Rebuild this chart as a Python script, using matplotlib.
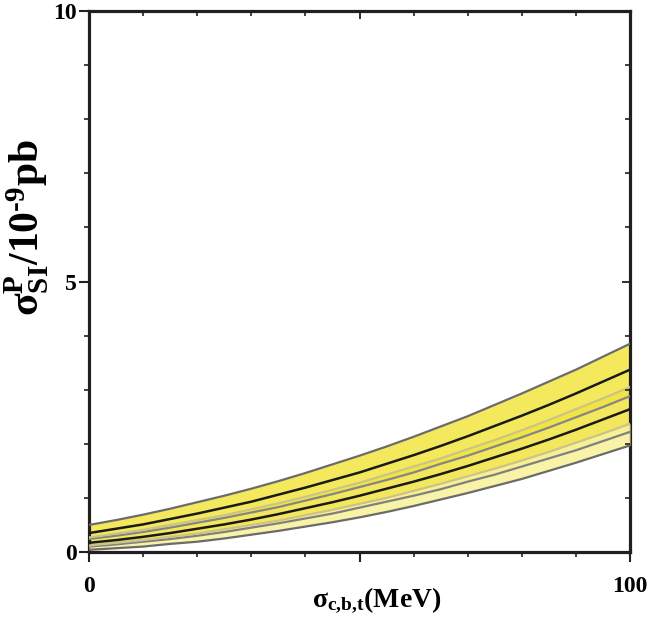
import matplotlib
matplotlib.use("Agg")
import matplotlib.pyplot as plt
import numpy as np

plt.rcParams['font.family'] = ['Liberation Serif', 'DejaVu Serif']
plt.rcParams['font.weight'] = 'bold'
plt.rcParams['mathtext.fontset'] = 'custom'
plt.rcParams['mathtext.rm'] = 'Liberation Serif:bold'
plt.rcParams['mathtext.it'] = 'Liberation Serif:bold'
plt.rcParams['mathtext.bf'] = 'Liberation Serif:bold'
plt.rcParams['mathtext.sf'] = 'Liberation Serif'

# x values (MeV)
sigma_x = [0, 5, 10, 15, 20, 25, 30, 35, 40, 45, 50, 55, 60, 65, 70, 75, 80, 85, 90, 95, 100]

# band 1 (upper)
band1_top = [0.50, 0.59, 0.69, 0.80, 0.92, 1.04, 1.17, 1.31, 1.46, 1.62, 1.78, 1.95, 2.13,
             2.32, 2.51, 2.72, 2.93, 3.15, 3.37, 3.61, 3.85]
band1_mid = [0.35, 0.43, 0.51, 0.61, 0.71, 0.82, 0.93, 1.06, 1.19, 1.33, 1.47, 1.63, 1.79,
             1.96, 2.14, 2.33, 2.52, 2.72, 2.93, 3.15, 3.37]
band1_bot = [0.24, 0.30, 0.37, 0.45, 0.54, 0.63, 0.73, 0.83, 0.95, 1.07, 1.20, 1.33, 1.47,
             1.63, 1.78, 1.95, 2.12, 2.30, 2.49, 2.68, 2.88]

# band 2 (middle)
band2_top = [0.27, 0.34, 0.41, 0.50, 0.59, 0.68, 0.79, 0.90, 1.02, 1.15, 1.28, 1.43, 1.58,
             1.73, 1.90, 2.07, 2.25, 2.44, 2.64, 2.84, 3.05]
band2_mid = [0.17, 0.22, 0.28, 0.35, 0.43, 0.51, 0.60, 0.70, 0.81, 0.92, 1.04, 1.17, 1.30,
             1.44, 1.59, 1.75, 1.91, 2.08, 2.26, 2.45, 2.64]
band2_bot = [0.10, 0.14, 0.19, 0.24, 0.30, 0.37, 0.45, 0.53, 0.62, 0.71, 0.82, 0.93, 1.04,
             1.16, 1.30, 1.43, 1.58, 1.73, 1.88, 2.05, 2.22]

# band 3 (lower)
band3_top = [0.12, 0.17, 0.22, 0.28, 0.34, 0.42, 0.50, 0.58, 0.68, 0.78, 0.89, 1.00, 1.13,
             1.26, 1.40, 1.54, 1.69, 1.85, 2.02, 2.19, 2.37]
band3_bot = [0.04, 0.07, 0.10, 0.15, 0.19, 0.25, 0.32, 0.39, 0.47, 0.55, 0.64, 0.74, 0.85,
             0.97, 1.09, 1.22, 1.35, 1.50, 1.65, 1.81, 1.97]

fig = plt.figure(figsize=(6.47, 6.22), dpi=100)
pos = [89/647, 70/622, (630-89)/647, (552-11)/622]
ax = fig.add_axes(pos)

ax.fill_between(sigma_x, band1_bot, band1_top, color='#f4e95c', lw=0, zorder=1)
ax.fill_between(sigma_x, band2_bot, band2_top, color='#f2e440', alpha=0.85, lw=0, zorder=2)
ax.fill_between(sigma_x, band3_bot, band3_top, color='#f9f29e', alpha=0.9, lw=0, zorder=3)

edge = '#6b6b6b'
light = '#cbc487'
ax.plot(sigma_x, band1_top, color=edge, lw=1.6, zorder=5)
ax.plot(sigma_x, band1_bot, color='#858585', lw=1.6, zorder=5)
ax.plot(sigma_x, band2_top, color=light, lw=1.6, zorder=5)
ax.plot(sigma_x, band2_bot, color='#808080', lw=1.6, zorder=5)
ax.plot(sigma_x, band3_top, color=light, lw=1.6, zorder=5)
ax.plot(sigma_x, band3_bot, color=edge, lw=1.6, zorder=5)
ax.plot(sigma_x, band1_mid, color='#1a1a1a', lw=1.8, zorder=6)
ax.plot(sigma_x, band2_mid, color='#1a1a1a', lw=1.8, zorder=6)

ax.set_xlim(0, 100)
ax.set_ylim(0, 10)

spine_c = '#231f20'
for s in ax.spines.values():
    s.set_linewidth(2.3)
    s.set_color(spine_c)

ax.set_xticks([0, 100])
ax.set_xticks(np.arange(0, 101, 10), minor=True)
ax.set_yticks([0, 5, 10])
ax.set_yticks(np.arange(0, 11, 1), minor=True)
ax.tick_params(axis='both', which='major', direction='out', length=7, width=1.5,
               color=spine_c, labelsize=17, top=False, right=False)
ax.tick_params(axis='both', which='minor', direction='out', length=3.5, width=1.2,
               color=spine_c, top=False, right=False)
ax.tick_params(axis='x', pad=10)
ax.tick_params(axis='y', pad=2)
for lab in ax.get_xticklabels() + ax.get_yticklabels():
    lab.set_fontweight('bold')

# inward ticks on top and right spines
ax2 = fig.add_axes(pos, frameon=False)
ax2.set_xlim(0, 100)
ax2.set_ylim(0, 10)
ax2.patch.set_visible(False)
ax2.set_xticks([50])
ax2.set_xticks(np.arange(0, 101, 10), minor=True)
ax2.set_yticks([5])
ax2.set_yticks(np.arange(0, 11, 1), minor=True)
ax2.tick_params(axis='both', which='major', direction='in', length=6, width=1.3,
                color=spine_c, bottom=False, left=False, top=True, right=True,
                labelbottom=False, labelleft=False)
ax2.tick_params(axis='both', which='minor', direction='in', length=3.5, width=1.2,
                color=spine_c, bottom=False, left=False, top=True, right=True)

# longer unlabeled tick at x=50 on bottom
ax3 = fig.add_axes(pos, frameon=False)
ax3.set_xlim(0, 100)
ax3.patch.set_visible(False)
ax3.set_xticks([50])
ax3.set_yticks([])
ax3.tick_params(axis='x', which='major', direction='out', length=7, width=1.5,
                color=spine_c, labelbottom=False)

fig.text(377/647, 1 - 600/622, r'$\mathsf{\sigma}_{\mathrm{c{,}b{,}t}}$(MeV)', ha='center',
         va='center', fontsize=20, fontweight='bold')
fig.text(27/647, 1 - 228/622,
         r'$\mathsf{\sigma}^{\mathrm{P}}_{\mathrm{SI}}$/10$^{\mathrm{\text{-}9}}$pb',
         ha='center', va='center', rotation=90, fontsize=30, fontweight='bold')

fig.savefig('out.png', dpi=100)
